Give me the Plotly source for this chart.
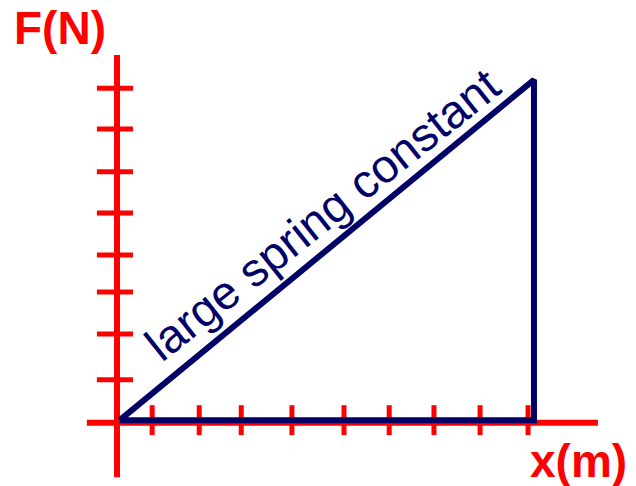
import plotly.graph_objects as go

# ---- data (units: x in m, F in N) ----
x_ticks = [0.77, 1.80, 2.72, 3.83, 4.97, 5.96, 6.94, 7.95, 9.00]
y_ticks = [0.99, 2.09, 3.10, 3.99, 5.00, 5.99, 7.02, 8.00]
tri_x = [0.06, 9.13, 9.13, 0.06]
tri_y = [0.02, 8.20, 0.02, 0.02]
x_axis_extent = [-0.66, 10.53]
y_axis_extent = [-1.35, 8.80]
curve_label = "large spring constant"
x_label = "x(m)"
y_label = "F(N)"

RED = "#FF0000"
NAVY = "#000066"

# ticks as segments built from tick arrays
xt_x, xt_y = [], []
for t in x_ticks:
    xt_x += [t, t, None]
    xt_y += [-0.34, 0.38, None]
yt_x, yt_y = [], []
for t in y_ticks:
    yt_x += [-0.44, 0.35, None]
    yt_y += [t, t, None]

fig = go.Figure()
# axes
fig.add_trace(go.Scatter(x=x_axis_extent, y=[-0.04, -0.04], mode="lines",
                         line=dict(color=RED, width=6), hoverinfo="skip"))
fig.add_trace(go.Scatter(x=[0, 0], y=y_axis_extent, mode="lines",
                         line=dict(color=RED, width=6), hoverinfo="skip"))
fig.add_trace(go.Scatter(x=xt_x, y=xt_y, mode="lines",
                         line=dict(color=RED, width=5), hoverinfo="skip"))
fig.add_trace(go.Scatter(x=yt_x, y=yt_y, mode="lines",
                         line=dict(color=RED, width=5), hoverinfo="skip"))
# triangle
fig.add_trace(go.Scatter(x=tri_x, y=tri_y, mode="lines",
                         line=dict(color=NAVY, width=6), hoverinfo="skip"))

fig.add_annotation(x=4.49, y=4.97, xref="x", yref="y", text=curve_label,
                   textangle=-38.5, showarrow=False,
                   xanchor="center", yanchor="middle",
                   font=dict(family="Liberation Sans, Arial", size=47, color=NAVY))
fig.add_annotation(x=0.0943, y=0.942, xref="paper", yref="paper",
                   text="<b>" + y_label + "</b>", showarrow=False,
                   xanchor="center", yanchor="middle",
                   font=dict(family="Liberation Sans, Arial", size=46, color=RED))
fig.add_annotation(x=0.910, y=0.052, xref="paper", yref="paper",
                   text="<b>" + x_label + "</b>", showarrow=False,
                   xanchor="center", yanchor="middle",
                   font=dict(family="Liberation Sans, Arial", size=46, color=RED))

fig.update_layout(
    width=636, height=486,
    margin=dict(l=0, r=0, t=0, b=0),
    paper_bgcolor="white", plot_bgcolor="white",
    showlegend=False,
    xaxis=dict(range=[-2.562, 11.364], visible=False, fixedrange=True),
    yaxis=dict(range=[-1.5625, 10.12], visible=False, fixedrange=True),
)
fig.write_html("out.html", config={"displayModeBar": False},
               post_script="document.body.style.margin='0';document.body.style.overflow='hidden';")
